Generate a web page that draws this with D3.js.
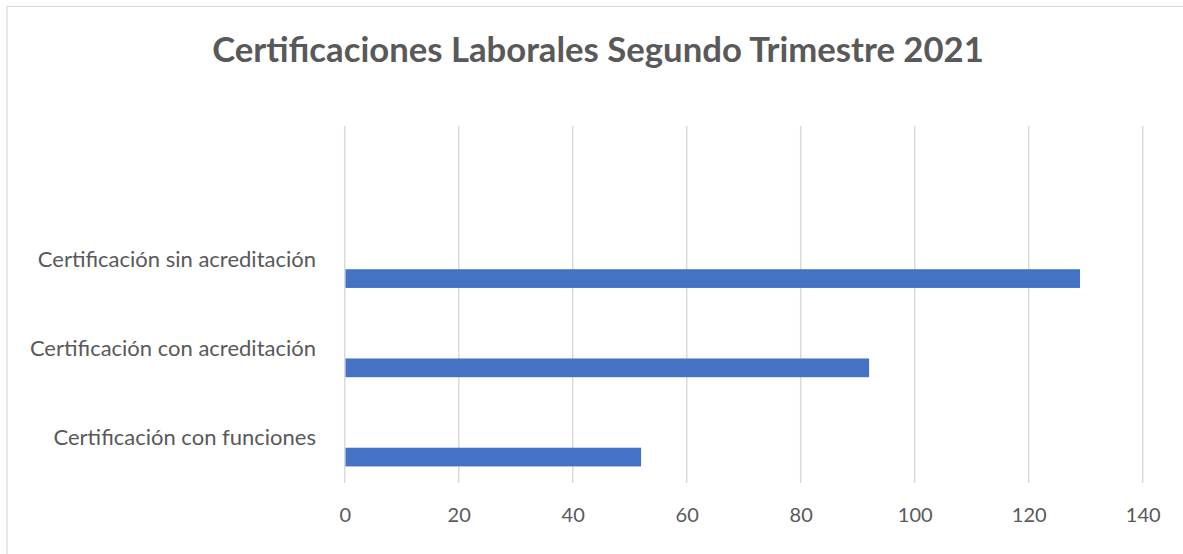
<!DOCTYPE html>
<html>
<head>
<meta charset="utf-8">
<script src="https://cdn.jsdelivr.net/npm/d3@7"></script>
<style>
  body { margin: 0; background: #fff; }
  text { font-family: Lato, "Open Sans", sans-serif; fill: #595959; }
</style>
</head>
<body>
<svg id="chart" width="1183" height="554"></svg>
<script>
// top slot is empty in the source sheet
const categories = ["", "Certificación sin acreditación", "Certificación con acreditación", "Certificación con funciones"];
const series = ["s1", "s2", "s3"];
const values = [null, 129, 92, 52];
const ticks = [0, 20, 40, 60, 80, 100, 120, 140];
const title = "Certificaciones Laborales Segundo Trimestre 2021";

const svg = d3.select("#chart");
const width = 1183, height = 554;

svg.append("rect")
    .attr("x", 7).attr("y", 6.5)
    .attr("width", width + 10).attr("height", height + 10)
    .attr("fill", "none").attr("stroke", "#d9d9d9").attr("stroke-width", 1.2);

svg.append("text")
    .attr("x", 598).attr("y", 62)
    .attr("text-anchor", "middle")
    .attr("font-size", 34.7).attr("font-weight", "bold")
    .text(title);

const x = d3.scaleLinear().domain([0, 140]).range([344.7, 1142.7]);
const y = d3.scaleBand().domain(categories).range([126, 483]);
const ySub = d3.scaleBand().domain(series).range([0, y.bandwidth()]).paddingOuter(0.886);

// gridlines
svg.append("g").selectAll("line").data(ticks).join("line")
    .attr("x1", d => x(d)).attr("x2", d => x(d))
    .attr("y1", 126).attr("y2", 483)
    .attr("stroke", "#d9d9d9").attr("stroke-width", 1.5);

// bars (only the last series has data)
const rows = categories.map((c, i) => ({c, v: values[i]})).filter(d => d.v != null);
svg.append("g").selectAll("rect").data(rows).join("rect")
    .attr("x", x(0) + 0.8)
    .attr("y", d => y(d.c) + ySub("s3"))
    .attr("width", d => x(d.v) - x(0) - 0.8)
    .attr("height", ySub.bandwidth())
    .attr("fill", "#4472c4");

// x axis labels
const xAxis = d3.axisBottom(x).tickValues(ticks).tickSize(0).tickPadding(0);
const gx = svg.append("g").attr("transform", "translate(0,522)").call(xAxis);
gx.select(".domain").remove();
gx.selectAll("text").attr("font-size", 20).attr("fill", "#595959")
    .style("font-family", "Lato, 'Open Sans', sans-serif").attr("dy", 0);

// y axis labels
const yAxis = d3.axisLeft(y).tickSize(0).tickPadding(0);
const gy = svg.append("g").attr("transform", "translate(316,0)").call(yAxis);
gy.select(".domain").remove();
gy.selectAll("text").attr("font-size", 22).attr("fill", "#595959")
    .style("font-family", "Lato, 'Open Sans', sans-serif").attr("dy", "0.32em");
</script>
</body>
</html>
